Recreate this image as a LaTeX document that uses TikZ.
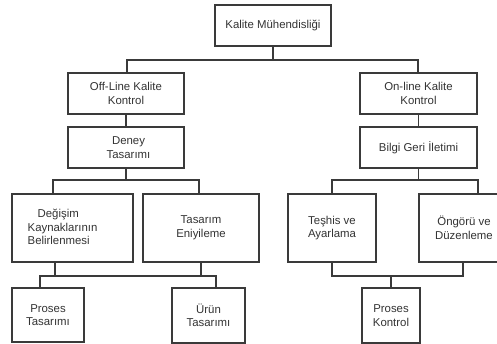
\documentclass[tikz,border=0pt]{standalone}
\usepackage{fontspec}
\setmainfont{Liberation Sans}
\definecolor{linec}{HTML}{3A3A3A}
\definecolor{textc}{HTML}{333333}
\begin{document}
\begin{tikzpicture}[x=1pt,y=-1pt,
  box/.style={draw=linec, line width=1.1pt, fill=white, align=center, inner sep=0pt, text=textc, font=\fontsize{11.4}{13.5}\selectfont},
  txt/.style={align=left, inner sep=0pt, text=textc, font=\fontsize{11.4}{13.8}\selectfont},
  conn/.style={draw=linec, line width=1.1pt}]
\useasboundingbox (0,0) rectangle (497,344);
\clip (0,0) rectangle (497,344);
\fill[white] (0,0) rectangle (497,344);

% boxes
\node[box, minimum width=116, minimum height=41] (km) at (273,25.5) {Kalite Mühendisliği};
\node[box, minimum width=116, minimum height=41] (off) at (126,93.5) {Off-Line Kalite\\Kontrol};
\node[box, minimum width=116, minimum height=41] (deney) at (126,147.5) {\hspace*{5pt}Deney\\\hspace*{5pt}Tasarımı};
\node[box, minimum width=117, minimum height=41] (on) at (418.5,93.5) {On-line Kalite\\Kontrol};
\node[box, minimum width=117, minimum height=41] (bilgi) at (418.5,147.5) {Bilgi Geri İletimi};
\node[box, minimum width=121, minimum height=68] (deg) at (72.5,228) {};
\node[txt] (degt) at (62.5,227) {\hspace*{10pt}Değişim\\Kaynaklarının\\Belirlenmesi};
\node[box, minimum width=116, minimum height=68] (tas) at (201,228) {Tasarım\\Eniyileme};
\node[box, minimum width=88, minimum height=68] (tes) at (332,228) {Teşhis ve\\Ayarlama};
\node[box, minimum width=90, minimum height=68] (ong) at (464,228) {Öngörü ve\\Düzenleme};
\node[box, minimum width=72, minimum height=54] (pt) at (48,315) {Proses\\Tasarımı};
\node[box, minimum width=73, minimum height=55] (urun) at (208.5,315.5) {Ürün\\Tasarımı};
\node[box, minimum width=58, minimum height=55] (pk) at (391,315.5) {Proses\\Kontrol};

% junction coordinates
\coordinate (b0l) at (127,60);  \coordinate (b0r) at (418,60);
\coordinate (b1l) at (53,180);  \coordinate (b1r) at (199,180);
\coordinate (b2l) at (40,276);  \coordinate (b2r) at (216,276);
\coordinate (s1) at (55,276);   \coordinate (s2) at (201,276);
\coordinate (b3l) at (332,180); \coordinate (b3r) at (478,180);
\coordinate (b4l) at (332,276); \coordinate (b4r) at (463,276);

% connectors
\draw[conn] (km.south -| 273,0) -- (b0l -| km.south);
\draw[conn] (off.north -| b0l) -- (b0l) -- (b0r) -- (on.north -| b0r);
\draw[conn] (off.south) -- (deney.north);
\draw[conn] (deney.south) -- (deney.south |- b1l);
\draw[conn] (deg.north -| b1l) -- (b1l) -- (b1r) -- (tas.north -| b1r);
\draw[conn] (s1 |- deg.south) -- (s1);
\draw[conn] (s2 |- tas.south) -- (s2);
\draw[conn] (pt.north -| b2l) -- (b2l) -- (b2r) -- (urun.north -| b2r);
\draw[conn] (on.south) -- (bilgi.north);
\draw[conn] (bilgi.south) -- (bilgi.south |- b3l);
\draw[conn] (tes.north -| b3l) -- (b3l) -- (b3r) -- (ong.north -| b3r);
\draw[conn] (tes.south -| b4l) -- (b4l) -- (b4r) -- (ong.south -| b4r);
\draw[conn] (pk.north) -- (pk.north |- b4l);
\end{tikzpicture}
\end{document}
